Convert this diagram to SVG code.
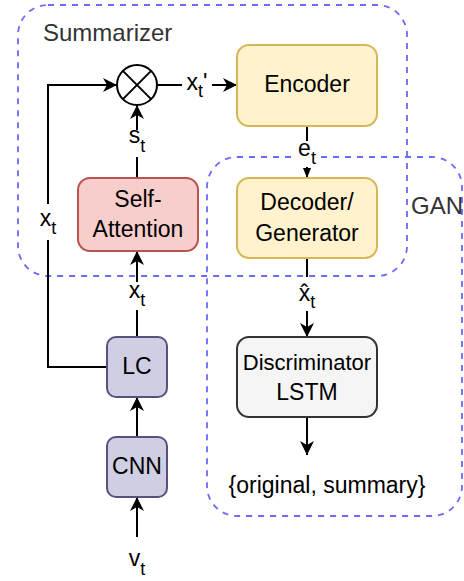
<svg xmlns="http://www.w3.org/2000/svg" width="464" height="581" viewBox="0 0 464 581">
<style>
text{font-family:"Liberation Sans",Arial,sans-serif;font-size:23px;fill:#000}
.cont{fill:none;stroke:#6b6bf5;stroke-width:1.8;stroke-dasharray:6 6}
.clabel{fill:#333;font-size:24px}
.edge{fill:none;stroke:#000;stroke-width:2}
.bg{fill:#fff}
.sub{font-size:18px}
</style>
<defs>
<marker id="arr" markerUnits="userSpaceOnUse" markerWidth="16" markerHeight="16" refX="14" refY="7" orient="auto">
<path d="M0,0 L14,7 L0,14 L4,7 Z" fill="#000"/>
</marker>
<marker id="arrs" markerUnits="userSpaceOnUse" markerWidth="12" markerHeight="12" refX="10" refY="4" orient="auto">
<path d="M0,0 L10,4 L0,8 Z" fill="#000"/>
</marker>
</defs>
<rect width="464" height="581" fill="#fff"/>
<g id="summarizer">
<rect class="cont" x="18" y="5" width="389" height="271" rx="30"/>
<text class="clabel" x="43" y="41">Summarizer</text>
</g>
<g id="gan">
<rect class="cont" x="207" y="157" width="255" height="359" rx="30"/>
<text class="clabel" x="411" y="214">GAN</text>
</g>
<g id="connectors">
<path class="edge" d="M107,367 H48 V85 H117" marker-end="url(#arr)"/>
<path class="edge" d="M157,85 H237" marker-end="url(#arr)"/>
<path class="edge" d="M137,178 V105" marker-end="url(#arr)"/>
<path class="edge" d="M137,337 V251" marker-end="url(#arr)"/>
<path class="edge" d="M137,437 V397" marker-end="url(#arr)"/>
<path class="edge" d="M137,537 V497" marker-end="url(#arr)"/>
<path class="edge" d="M307,126 V178" marker-end="url(#arrs)"/>
<path class="edge" d="M307,258 V337" marker-end="url(#arr)"/>
<path class="edge" d="M307,417 V455" marker-end="url(#arr)"/>
<rect class="bg" x="36" y="204" width="24" height="36"/>
<text x="48" y="226" text-anchor="middle">x<tspan class="sub" dy="8">t</tspan></text>
<rect class="bg" x="182" y="74" width="30" height="26"/>
<text x="197" y="90" text-anchor="middle">x<tspan class="sub" dy="7">t</tspan><tspan dy="-7">'</tspan></text>
<rect class="bg" x="126" y="130" width="24" height="27"/>
<text x="137" y="143" text-anchor="middle">s<tspan class="sub" dy="9">t</tspan></text>
<rect class="bg" x="125" y="282" width="24" height="28"/>
<text x="137" y="298" text-anchor="middle">x<tspan class="sub" dy="8">t</tspan></text>
<rect class="bg" x="295" y="141" width="24" height="26"/>
<text x="307" y="156" text-anchor="middle">e<tspan class="sub" dy="8">t</tspan></text>
<rect class="bg" x="295" y="277" width="24" height="34"/>
<text x="307" y="301" text-anchor="middle">x&#x302;<tspan class="sub" dy="7">t</tspan></text>
<text x="137" y="566" text-anchor="middle">v<tspan class="sub" dy="9">t</tspan></text>
<text x="327" y="493" text-anchor="middle">{original, summary}</text>
</g>
<g id="multiply">
<circle cx="137" cy="85" r="20" fill="#fff" stroke="#000" stroke-width="2"/>
<path d="M122.9,70.9 L151.1,99.1 M151.1,70.9 L122.9,99.1" stroke="#000" stroke-width="2"/>
</g>
<g id="encoder">
<rect x="237" y="45" width="140" height="81" rx="12" fill="#fff2cc" stroke="#d6b656" stroke-width="2"/>
<text x="307" y="92" text-anchor="middle">Encoder</text>
</g>
<g id="self-attention">
<rect x="78" y="178" width="120" height="73" rx="12" fill="#f8cecc" stroke="#b85450" stroke-width="2"/>
<text x="138" y="207" text-anchor="middle">Self-</text>
<text x="138" y="237" text-anchor="middle">Attention</text>
</g>
<g id="decoder">
<rect x="237" y="178" width="140" height="80" rx="12" fill="#fff2cc" stroke="#d6b656" stroke-width="2"/>
<text x="307" y="210" text-anchor="middle">Decoder/</text>
<text x="307" y="241" text-anchor="middle">Generator</text>
</g>
<g id="discriminator">
<rect x="237" y="337" width="140" height="80" rx="12" fill="#f5f5f5" stroke="#333" stroke-width="2"/>
<text x="307" y="370" text-anchor="middle" style="font-size:22px">Discriminator</text>
<text x="307" y="400" text-anchor="middle">LSTM</text>
</g>
<g id="lc">
<rect x="107" y="337" width="60" height="60" rx="9" fill="#d0cee2" stroke="#56517e" stroke-width="2"/>
<text x="137" y="374" text-anchor="middle">LC</text>
</g>
<g id="cnn">
<rect x="107" y="437" width="60" height="60" rx="9" fill="#d0cee2" stroke="#56517e" stroke-width="2"/>
<text x="137" y="474" text-anchor="middle">CNN</text>
</g>
</svg>
